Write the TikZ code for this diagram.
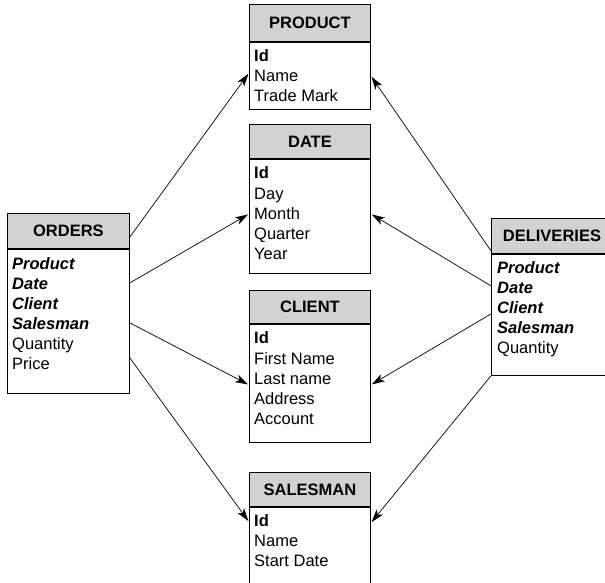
\documentclass[tikz,border=0pt]{standalone}
\usepackage{fontspec}
\setmainfont{Liberation Sans}
\usetikzlibrary{arrows.meta,calc}
\begin{document}
\begin{tikzpicture}[x=1pt,y=-1pt,
  txt/.style={font=\fontsize{16.5}{20}\selectfont},
  hdr/.style={txt,draw,line width=0.9pt,fill=gray!35,minimum width=121pt,inner sep=0pt,anchor=north west,font=\fontsize{16.5}{20}\selectfont\bfseries},
  tbody/.style={draw,line width=0.9pt,fill=white,minimum width=121pt,inner sep=0pt,anchor=north west},
  fld/.style={txt,inner sep=0pt,anchor=base west},
  arr/.style={line width=0.7pt,-{Stealth[length=13pt,width=8pt,inset=3.5pt]},shorten >=1pt}]
\useasboundingbox (0,0) rectangle (605,582);
\clip (0,0) rectangle (605,582);
% PRODUCT
\node[hdr,minimum height=37pt] (prodhead) at (249,4) {PRODUCT};
\node[tbody,minimum height=67pt] (prodbody) at (prodhead.south west) {};
\foreach \t [count=\i from 0] in {{\textbf{Id}},Name,{Trade Mark}}
  \node[fld] (pf\i) at ($(prodbody.north west)+(5,20+20*\i)$) {\t};
% DATE
\node[hdr,minimum height=34pt] (datehead) at (249,124) {DATE};
\node[tbody,minimum height=114pt] (datebody) at (datehead.south west) {};
\foreach \t [count=\i from 0] in {{\textbf{Id}},Day,Month,Quarter,Year}
  \node[fld] (df\i) at ($(datebody.north west)+(5,20+20.2*\i)$) {\t};
% CLIENT
\node[hdr,minimum height=33pt] (clienthead) at (249,290) {CLIENT};
\node[tbody,minimum height=118pt] (clientbody) at (clienthead.south west) {};
\foreach \t [count=\i from 0] in {{\textbf{Id}},{First Name},{Last name},Address,Account}
  \node[fld] (cf\i) at ($(clientbody.north west)+(5,20+20.2*\i)$) {\t};
% SALESMAN
\node[hdr,minimum height=34pt] (salhead) at (249,472) {SALESMAN};
\node[tbody,minimum height=90pt] (salbody) at (salhead.south west) {};
\foreach \t [count=\i from 0] in {{\textbf{Id}},Name,{Start Date}}
  \node[fld] (sf\i) at ($(salbody.north west)+(5,20+20*\i)$) {\t};
% ORDERS
\node[hdr,minimum width=122pt,minimum height=35pt] (ordhead) at (7,213) {ORDERS};
\node[tbody,minimum width=122pt,minimum height=144pt] (ordbody) at (ordhead.south west) {};
\foreach \t [count=\i from 0] in {{\textbf{\textit{Product}}},{\textbf{\textit{Date}}},{\textbf{\textit{Client}}},{\textbf{\textit{Salesman}}},Quantity,Price}
  \node[fld] (of\i) at ($(ordbody.north west)+(5,21+20*\i)$) {\t};
% DELIVERIES
\node[hdr,minimum height=35pt] (delhead) at (491,218) {DELIVERIES};
\node[tbody,minimum height=121pt] (delbody) at (delhead.south west) {};
\foreach \t [count=\i from 0] in {{\textbf{\textit{Product}}},{\textbf{\textit{Date}}},{\textbf{\textit{Client}}},{\textbf{\textit{Salesman}}},Quantity}
  \node[fld] (vf\i) at ($(delbody.north west)+(6,20+20*\i)$) {\t};
% connectors
\draw[arr] ($(ordhead.north east)+(0,24)$) -- ($(prodbody.north west)+(0,31)$);
\draw[arr] ($(ordbody.north east)+(0,34)$) -- ($(datebody.north west)+(0,55)$);
\draw[arr] ($(ordbody.north east)+(0,74)$) -- ($(clientbody.north west)+(0,61)$);
\draw[arr] ($(ordbody.north east)+(0,109)$) -- ($(salbody.north west)+(0,15)$);
\draw[arr] ($(delhead.south west)+(0,-3)$) -- ($(prodbody.north east)+(0,34)$);
\draw[arr] ($(delbody.north west)+(0,32)$) -- ($(datebody.north east)+(0,55)$);
\draw[arr] ($(delbody.north west)+(0,60)$) -- ($(clientbody.north east)+(0,61)$);
\draw[arr] (delbody.south west) -- ($(salbody.north east)+(0,16)$);
\end{tikzpicture}
\end{document}
